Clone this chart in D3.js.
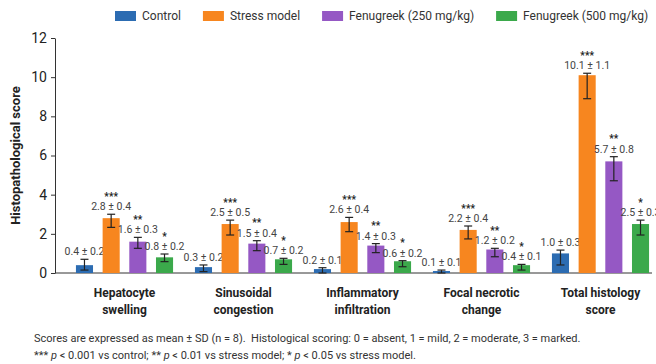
<!DOCTYPE html>
<html>
<head>
<meta charset="utf-8">
<script src="https://cdn.jsdelivr.net/npm/d3@7"></script>
<style>
  body { margin: 0; background: #fff; }
  svg { font-family: Roboto, "Liberation Sans", sans-serif; }
</style>
</head>
<body>
<div id="main"><svg width="656" height="364"></svg></div>
<script>
// Chart data
var categories = ["Hepatocyte swelling", "Sinusoidal congestion", "Inflammatory infiltration", "Focal necrotic change", "Total histology score"];
var categoryLines = [["Hepatocyte", "swelling"], ["Sinusoidal", "congestion"], ["Inflammatory", "infiltration"], ["Focal necrotic", "change"], ["Total histology", "score"]];
var seriesNames = ["Control", "Stress model", "Fenugreek (250 mg/kg)", "Fenugreek (500 mg/kg)"];
var seriesColors = ["#2c6cb2", "#f7861f", "#9558c4", "#3ba94b"];
var stars = ["", "***", "**", "*"];

// mean values per series (one per category)
var control  = [0.4, 0.3, 0.2, 0.1, 1.0];
var stress   = [2.8, 2.5, 2.6, 2.2, 10.1];
var feno250  = [1.6, 1.5, 1.4, 1.2, 5.7];
var feno500  = [0.8, 0.7, 0.6, 0.4, 2.5];
var means = [control, stress, feno250, feno500];

// SD values as printed
var sdControl = [0.2, 0.2, 0.1, 0.1, 0.3];
var sdStress  = [0.4, 0.5, 0.4, 0.4, 1.1];
var sd250     = [0.3, 0.4, 0.3, 0.2, 0.8];
var sd500     = [0.2, 0.2, 0.2, 0.1, 0.3];
var sds = [sdControl, sdStress, sd250, sd500];

// error bar ends as drawn in the figure
var errHi = [
  [0.7, 0.41, 0.27, 0.15, 1.17],
  [3.0, 2.7, 2.84, 2.4, 10.2],
  [1.82, 1.65, 1.5, 1.26, 5.94],
  [0.97, 0.75, 0.63, 0.44, 2.7]
];
var errLo = [
  [0.15, 0.07, 0.0, 0.0, 0.41],
  [2.33, 1.94, 2.11, 1.74, 8.9],
  [1.26, 1.14, 1.04, 0.83, 4.71],
  [0.58, 0.44, 0.32, 0.15, 1.94]
];

var yTicks = [0, 2, 4, 6, 8, 10, 12];

var footnote1 = "Scores are expressed as mean \u00b1 SD (n = 8).  Histological scoring: 0 = absent, 1 = mild, 2 = moderate, 3 = marked.";

var svg = d3.select("#main").select("svg");

// Scales
var yScale = d3.scaleLinear().domain([0, 12]).range([273, 38]);
var x0 = d3.scaleBand().domain(categories).range([65, 660]);
var x1 = d3.scaleBand().domain(seriesNames)
    .range([0, x0.bandwidth()])
    .paddingInner(0.36)
    .paddingOuter(0.41);

// Y axis
var yAxis = d3.axisLeft(yScale).tickValues(yTicks).tickSize(4).tickSizeOuter(0).tickPadding(4);
var yG = svg.append("g")
    .attr("transform", "translate(55,0)")
    .call(yAxis);
yG.select(".domain").attr("stroke", "#333");
yG.selectAll(".tick line").attr("stroke", "#333");
yG.selectAll(".tick text")
    .attr("font-size", 14)
    .attr("font-family", "Roboto, sans-serif")
    .attr("fill", "#222");

// X axis baseline
svg.append("line")
    .attr("x1", 55).attr("x2", 652)
    .attr("y1", yScale(0)).attr("y2", yScale(0))
    .attr("stroke", "#333");

svg.append("text")
    .attr("transform", "translate(20," + yScale(6) + ") rotate(-90)")
    .attr("text-anchor", "middle")
    .attr("font-size", 13)
    .attr("font-weight", "bold")
    .attr("fill", "#222")
    .text("Histopathological score");

// Bars
var groups = svg.append("g").selectAll("g")
    .data(categories)
    .enter().append("g")
    .attr("transform", function(d) { return "translate(" + x0(d) + ",0)"; });

seriesNames.forEach(function(s, si) {
  groups.append("rect")
      .attr("x", x1(s))
      .attr("width", x1.bandwidth())
      .attr("y", function(d, ci) { return yScale(means[si][ci]); })
      .attr("height", function(d, ci) { return yScale(0) - yScale(means[si][ci]); })
      .attr("fill", seriesColors[si]);

  var cx = x1(s) + x1.bandwidth() / 2;
  // error bars
  groups.append("line")
      .attr("x1", cx).attr("x2", cx)
      .attr("y1", function(d, ci) { return yScale(errHi[si][ci]); })
      .attr("y2", function(d, ci) { return yScale(errLo[si][ci]); })
      .attr("stroke", "#222").attr("stroke-width", 1.2);
  [errHi, errLo].forEach(function(arr) {
    groups.append("line")
        .attr("x1", cx - 4).attr("x2", cx + 4)
        .attr("y1", function(d, ci) { return yScale(arr[si][ci]); })
        .attr("y2", function(d, ci) { return yScale(arr[si][ci]); })
        .attr("stroke", "#222").attr("stroke-width", 1.2);
  });

  // value labels
  groups.append("text")
      .attr("x", cx)
      .attr("y", function(d, ci) { return yScale(errHi[si][ci]) - 4; })
      .attr("text-anchor", "middle")
      .attr("font-size", 10.5)
      .attr("fill", "#444")
      .text(function(d, ci) { return means[si][ci].toFixed(1) + " \u00b1 " + sds[si][ci].toFixed(1); });

  if (stars[si]) {
    groups.append("text")
        .attr("x", cx)
        .attr("y", function(d, ci) { return yScale(errHi[si][ci]) - 14.5; })
        .attr("text-anchor", "middle")
        .attr("font-size", 10)
        .attr("font-weight", "bold")
        .attr("fill", "#222")
        .text(stars[si]);
  }
});

// Category labels
groups.each(function(d, ci) {
  var t = d3.select(this).append("text")
      .attr("text-anchor", "middle")
      .attr("font-size", 12)
      .attr("font-weight", "bold")
      .attr("fill", "#222");
  categoryLines[ci].forEach(function(line, li) {
    t.append("tspan")
        .attr("x", x0.bandwidth() / 2)
        .attr("y", 297 + li * 17)
        .text(line);
  });
});

// Legend
var legend = svg.append("g").attr("transform", "translate(115,16)");
var lx = 0;
seriesNames.forEach(function(s, si) {
  legend.append("rect")
      .attr("x", lx).attr("y", -5)
      .attr("width", 21).attr("height", 10)
      .attr("fill", seriesColors[si]);
  var txt = legend.append("text")
      .attr("x", lx + 27).attr("y", 4)
      .attr("font-size", 12)
      .attr("fill", "#333")
      .text(s);
  lx += 27 + txt.node().getComputedTextLength() + 22;
});

// Footnotes
svg.append("text")
    .attr("x", 34).attr("y", 342)
    .attr("font-size", 11)
    .attr("fill", "#333")
    .style("white-space", "pre")
    .text(footnote1);

var fn2 = svg.append("text")
    .attr("x", 34).attr("y", 359)
    .attr("font-size", 11)
    .attr("fill", "#333")
    .style("white-space", "pre");
fn2.append("tspan").text("*** ");
fn2.append("tspan").attr("font-style", "italic").text("p");
fn2.append("tspan").text(" < 0.001 vs control; ** ");
fn2.append("tspan").attr("font-style", "italic").text("p");
fn2.append("tspan").text(" < 0.01 vs stress model; * ");
fn2.append("tspan").attr("font-style", "italic").text("p");
fn2.append("tspan").text(" < 0.05 vs stress model.");
</script>
</body>
</html>
